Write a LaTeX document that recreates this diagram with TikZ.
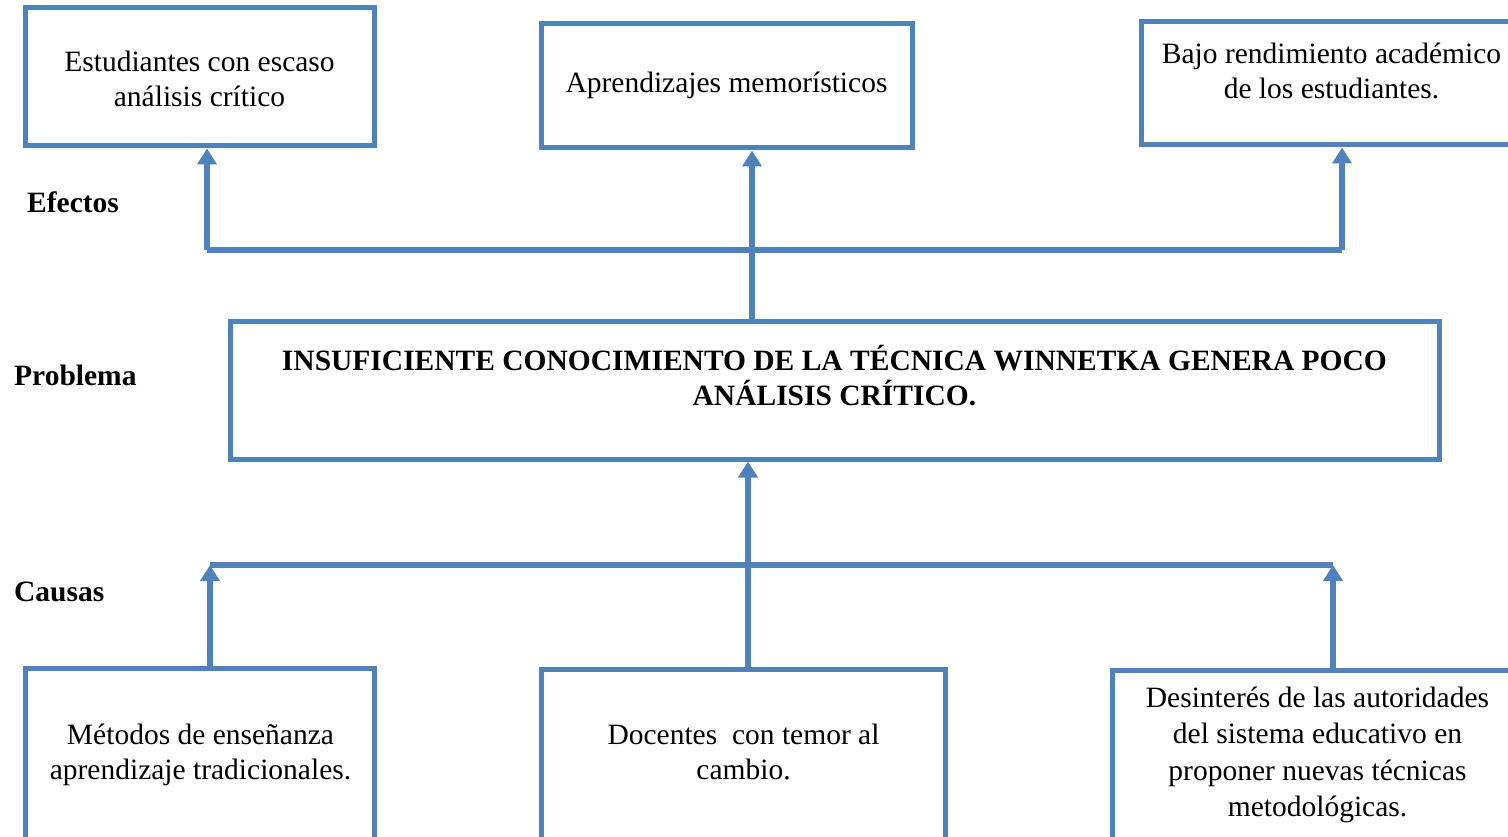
\documentclass[tikz,border=0pt]{standalone}
\usepackage{fontspec}
\setmainfont{Liberation Serif}
\usetikzlibrary{arrows.meta}
\definecolor{ob}{RGB}{79,129,189}
\begin{document}
\begin{tikzpicture}[x=1pt,y=-1pt,
  boxx/.style={draw=ob,line width=5pt,rectangle,inner sep=0pt},
  txt/.style={align=center,font=\fontsize{29.5}{35}\selectfont,inner sep=0pt},
  lbl/.style={font=\fontsize{29.5}{35}\selectfont\bfseries,inner sep=0pt,anchor=base west},
  conn/.style={draw=ob,line width=5.5pt},
  arr/.style={conn,-{Triangle[width=19pt,length=16pt]}}]
\useasboundingbox (0,0) rectangle (1508,837);
\clip (0,0) rectangle (1508,837);
% boxes
\node[boxx,minimum width=349pt,minimum height=138pt] (b1) at (199.5,77) {};
\node[boxx,minimum width=371pt,minimum height=124pt] (b2) at (726.5,86) {};
\node[boxx,minimum width=381pt,minimum height=123pt] (b3) at (1331.5,83.5) {};
\node[boxx,minimum width=1209pt,minimum height=138pt] (p) at (834.5,390) {};
\node[boxx,minimum width=349pt,minimum height=180pt] (b4) at (199.5,758) {};
\node[boxx,minimum width=404pt,minimum height=180pt] (b5) at (743,759) {};
\node[boxx,minimum width=411pt,minimum height=180pt] (b6) at (1317.5,760) {};
% texts
\node[txt] (t1) at (199.5,78.5) {Estudiantes con escaso\\análisis crítico};
\node[txt] (t2) at (726.5,85) {Aprendizajes memorísticos};
\node[txt] (t3) at (1331.5,71) {Bajo rendimiento académico\\de los estudiantes.};
\node[txt,font=\fontsize{29.5}{35}\selectfont\bfseries] (tp) at (834.5,375.5) {INSUFICIENTE CONOCIMIENTO DE LA TÉCNICA WINNETKA GENERA POCO\\ANÁLISIS CRÍTICO.};
\node[txt] (t4) at (200.5,755) {Métodos de enseñanza\\aprendizaje tradicionales.};
\node[txt] (t5) at (743.5,751.5) {Docentes\ \ con temor al\\cambio.};
\node[txt,font=\fontsize{29.5}{36.5}\selectfont] (t6) at (1317.5,755) {Desinterés de las autoridades\\del sistema educativo en\\proponer nuevas técnicas\\metodológicas.};
% labels
\node[lbl] (le) at (27,213) {Efectos};
\node[lbl] (lp) at (14,385) {Problema};
\node[lbl] (lc) at (14,601) {Causas};
% effect connectors
\coordinate (e1) at (207,250);
\coordinate (e2) at (752,250);
\coordinate (e3) at (1342,250);
\draw[conn] (e1) -- (e3);
\draw[arr] (e1) -- (e1 |- b1.south);
\draw[arr] (e3) -- (e3 |- b3.south);
\draw[arr] (e2 |- p.north) -- (e2 |- b2.south);
% cause connectors
\coordinate (c1) at (210,565);
\coordinate (c2) at (748,565);
\coordinate (c3) at (1333,565);
\draw[conn] (c1) -- (c3);
\draw[arr] (c1 |- b4.north) -- (c1);
\draw[arr] (c3 |- b6.north) -- (c3);
\draw[arr] (c2 |- b5.north) -- (c2 |- p.south);
\end{tikzpicture}
\end{document}
